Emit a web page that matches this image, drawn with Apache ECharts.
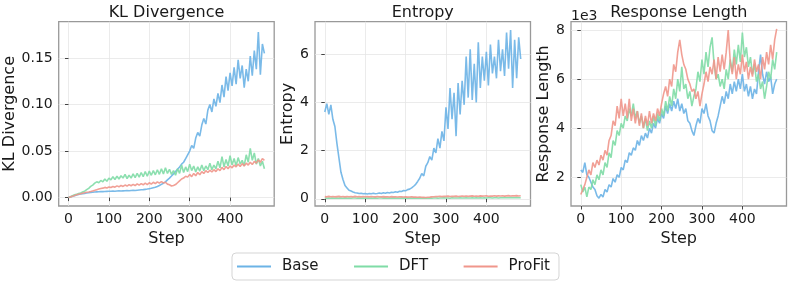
<!DOCTYPE html>
<html>
<head>
<meta charset="utf-8">
<script src="https://cdn.jsdelivr.net/npm/echarts@6.0.0/dist/echarts.min.js"></script>
<style>
html,body{margin:0;padding:0;background:#fff;}
#chart{width:793px;height:288px;}
</style>
</head>
<body>
<div id="chart"></div>
<script>
// ---- Data ----
const methods = ['Base', 'DFT', 'ProFit'];
const panelTitles = ['KL Divergence', 'Entropy', 'Response Length'];
const xTicks = [0, 100, 200, 300, 400];
const klTicks = [0, 0.05, 0.10, 0.15];
const entropyTicks = [0, 2, 4, 6];
const lengthTicks = [2, 4, 6, 8]; // units of 1e3

const steps = [
  0,5,10,15,20,25,30,35,40,45,
  50,55,60,65,70,75,80,85,90,95,
  100,105,110,115,120,125,130,135,140,145,
  150,155,160,165,170,175,180,185,190,195,
  200,205,210,215,220,225,230,235,240,245,
  250,255,260,265,270,275,280,285,290,295,
  300,305,310,315,320,325,330,335,340,345,
  350,355,360,365,370,375,380,385,390,395,
  400,405,410,415,420,425,430,435,440,445,
  450,455,460,465,470,475,480,485
];

const klBase = [
  0,0.0008,0.0015,0.002,0.0028,0.0033,0.0038,0.0042,0.0046,0.005,
  0.0053,0.0056,0.0058,0.006,0.0062,0.0063,0.0065,0.0064,0.0066,0.0067,
  0.0068,0.0069,0.007,0.0069,0.0071,0.0072,0.0071,0.0073,0.0074,0.0075,
  0.0074,0.0076,0.0078,0.0077,0.008,0.0082,0.0084,0.0086,0.0089,0.0092,
  0.0096,0.01,0.0106,0.0112,0.012,0.013,0.0142,0.0155,0.017,0.019,
  0.021,0.0232,0.0255,0.028,0.0305,0.033,0.036,0.038,0.042,0.046,
  0.05,0.056,0.053,0.064,0.07,0.066,0.078,0.085,0.079,0.094,
  0.1,0.092,0.106,0.098,0.112,0.102,0.121,0.108,0.13,0.115,
  0.134,0.12,0.14,0.122,0.148,0.128,0.142,0.118,0.138,0.125,
  0.152,0.131,0.158,0.138,0.178,0.132,0.165,0.155
];
const klDFT = [
  0,0.001,0.002,0.003,0.0035,0.0045,0.005,0.006,0.007,0.0085,
  0.01,0.012,0.0135,0.0155,0.017,0.016,0.0185,0.017,0.02,0.0175,
  0.021,0.019,0.0225,0.0195,0.023,0.02,0.0235,0.021,0.025,0.0205,
  0.024,0.021,0.0255,0.0215,0.026,0.022,0.027,0.0225,0.028,0.023,
  0.0285,0.024,0.029,0.0245,0.03,0.025,0.031,0.0255,0.032,0.026,
  0.0305,0.025,0.029,0.024,0.031,0.026,0.035,0.027,0.033,0.028,
  0.036,0.029,0.034,0.0275,0.033,0.0285,0.035,0.029,0.034,0.03,
  0.037,0.03,0.035,0.031,0.039,0.032,0.044,0.033,0.041,0.034,
  0.045,0.035,0.042,0.034,0.043,0.036,0.04,0.034,0.046,0.038,
  0.053,0.04,0.048,0.036,0.042,0.034,0.039,0.031
];
const klProFit = [
  0,0.0008,0.0015,0.0022,0.003,0.0036,0.0042,0.0048,0.0052,0.0058,
  0.006,0.0065,0.0072,0.0078,0.0085,0.0092,0.0098,0.0102,0.011,0.0104,
  0.0115,0.0108,0.012,0.0112,0.0126,0.0116,0.013,0.012,0.0135,0.0124,
  0.014,0.0128,0.0142,0.013,0.0148,0.0134,0.015,0.0138,0.0155,0.014,
  0.016,0.0145,0.0165,0.015,0.017,0.0155,0.0172,0.0158,0.0165,0.0145,
  0.0138,0.0125,0.013,0.014,0.016,0.018,0.02,0.021,0.023,0.022,
  0.025,0.0225,0.026,0.0235,0.027,0.0245,0.028,0.026,0.029,0.027,
  0.0295,0.0275,0.03,0.028,0.031,0.029,0.0325,0.03,0.0335,0.031,
  0.034,0.032,0.035,0.033,0.036,0.0335,0.0365,0.034,0.037,0.035,
  0.038,0.0355,0.039,0.037,0.0405,0.038,0.042,0.04
];

const entropyBase = [
  3.6,3.95,3.5,3.9,3.3,3.0,2.3,1.7,1.1,0.8,
  0.55,0.45,0.35,0.32,0.28,0.25,0.24,0.22,0.23,0.21,
  0.22,0.2,0.22,0.21,0.23,0.21,0.22,0.24,0.22,0.25,
  0.23,0.26,0.24,0.27,0.26,0.29,0.27,0.31,0.3,0.34,
  0.33,0.38,0.4,0.45,0.52,0.6,0.72,0.85,1.05,0.95,
  1.35,1.5,1.75,1.6,2.1,1.9,2.5,2.1,2.8,2.4,
  3.8,2.9,4.6,3.3,4.4,2.6,4.8,3.5,4.9,3.9,
  5.9,4.2,6.2,4.1,5.6,4.0,6.5,4.6,5.9,4.9,
  6.1,4.7,6.4,5.2,5.9,5.0,6.6,5.3,6.2,5.1,
  6.9,5.4,7.0,4.6,6.6,5.0,6.7,5.8
];
const entropyDFT = [
  0.03,0.02,0.035,0.025,0.03,0.02,0.035,0.025,0.03,0.02,
  0.03,0.025,0.035,0.02,0.03,0.035,0.025,0.03,0.02,0.035,
  0.025,0.03,0.02,0.035,0.025,0.03,0.02,0.03,0.035,0.025,
  0.03,0.02,0.035,0.025,0.03,0.025,0.035,0.02,0.03,0.025,
  0.03,0.02,0.03,0.025,0.035,0.02,0.03,0.025,0.02,0.03,
  0.025,0.02,0.03,0.025,0.035,0.03,0.025,0.035,0.03,0.04,
  0.03,0.035,0.025,0.04,0.03,0.035,0.03,0.04,0.035,0.03,
  0.04,0.035,0.03,0.04,0.035,0.045,0.035,0.04,0.03,0.04,
  0.035,0.045,0.04,0.035,0.045,0.04,0.035,0.045,0.04,0.05,
  0.04,0.045,0.05,0.04,0.045,0.05,0.04,0.045
];
const entropyProFit = [
  0.09,0.08,0.1,0.085,0.095,0.08,0.09,0.1,0.085,0.09,
  0.08,0.095,0.085,0.09,0.08,0.1,0.085,0.09,0.08,0.095,
  0.085,0.09,0.08,0.095,0.085,0.08,0.09,0.085,0.08,0.09,
  0.08,0.085,0.075,0.09,0.08,0.085,0.075,0.08,0.085,0.075,
  0.08,0.07,0.075,0.08,0.07,0.075,0.065,0.07,0.06,0.065,
  0.055,0.065,0.07,0.08,0.085,0.09,0.095,0.1,0.09,0.105,
  0.1,0.11,0.095,0.105,0.1,0.11,0.095,0.105,0.11,0.1,
  0.115,0.1,0.11,0.12,0.105,0.115,0.1,0.12,0.11,0.115,
  0.12,0.105,0.115,0.11,0.125,0.11,0.12,0.115,0.125,0.11,
  0.12,0.13,0.115,0.125,0.12,0.13,0.115,0.125
];

// response length, in units of 1e3 tokens
const lengthBase = [
  2.3,2.2,2.6,2.1,2.0,1.8,1.6,1.5,1.25,1.15,
  1.3,1.2,1.5,1.4,1.7,1.6,1.95,1.8,2.1,2.0,
  2.4,2.3,2.7,2.6,3.0,2.9,3.2,3.1,3.5,3.3,
  3.7,3.5,3.8,3.6,4.0,3.8,4.2,4.0,4.4,4.2,
  4.6,4.4,4.9,4.6,5.0,4.7,5.1,4.8,5.2,4.7,
  5.0,4.6,4.8,4.3,4.2,3.9,3.7,4.1,4.4,4.2,
  4.8,4.6,5.0,4.5,4.3,3.9,3.8,4.2,4.5,4.9,
  5.3,5.0,5.5,5.2,5.8,5.4,5.9,5.5,6.0,5.6,
  6.2,5.5,5.8,5.3,5.7,5.2,5.6,5.4,6.3,7.0,
  6.2,5.8,6.3,5.9,6.1,5.4,5.8,6.0
];
const lengthDFT = [
  1.7,1.4,1.6,1.2,1.6,1.5,1.9,1.7,2.1,1.9,
  2.3,2.1,2.6,2.4,3.0,2.8,3.5,3.3,3.9,3.7,
  4.2,4.0,4.5,4.3,4.8,4.5,5.0,4.4,4.7,4.2,
  4.5,4.0,4.4,3.9,4.3,4.0,4.5,4.1,4.6,4.3,
  4.8,4.5,5.1,4.7,5.3,4.9,5.6,5.2,6.0,5.5,
  6.5,5.6,5.8,5.2,5.5,4.9,5.3,5.6,6.3,5.9,
  6.8,6.2,7.1,6.5,7.3,7.7,6.6,6.0,6.2,5.7,
  6.0,5.6,6.4,6.0,6.8,6.3,7.2,6.6,7.4,6.7,
  7.9,6.9,7.3,6.5,6.9,6.2,6.6,5.9,6.2,5.6,
  5.9,5.2,5.7,6.3,6.0,6.8,6.4,7.1
];
const lengthProFit = [
  1.3,1.5,1.7,2.0,2.3,2.1,2.6,2.4,2.7,2.5,
  2.9,2.7,3.1,2.9,3.5,3.7,4.3,4.1,4.9,4.4,
  5.2,4.5,5.0,4.4,5.2,4.3,4.8,4.2,4.7,4.1,
  4.6,4.0,4.5,4.1,4.7,4.2,4.6,4.3,4.8,4.5,
  5.0,5.4,5.7,5.3,6.0,5.7,6.6,6.3,7.1,7.6,
  7.0,6.6,6.4,6.0,5.8,5.5,5.6,5.2,5.5,4.9,
  5.4,5.8,6.3,5.9,6.5,6.2,6.8,6.0,6.9,6.3,
  7.0,6.4,7.1,8.0,6.7,6.2,6.9,6.0,6.6,6.2,
  7.0,6.3,6.7,6.0,6.5,6.1,6.8,6.3,6.6,6.0,
  6.9,6.4,7.1,6.6,7.4,6.8,7.6,8.05
];

// ---- Styling / layout ----
const colors = ['#6cb3e6', '#7fdca6', '#f0968b'];
const FONT = 'DejaVu Sans';
const TXT = '#1a1a1a';
const gridLefts = [58.7, 315, 571];
const gridTop = 21.7, gridW = 215.5, gridH = 184.3;

const panelData = [
  [klBase, klDFT, klProFit],
  [entropyBase, entropyDFT, entropyProFit],
  [lengthBase, lengthDFT, lengthProFit]
];
const yCfg = [
  {min: -0.009, max: 0.189, ticks: klTicks, fmt: v => v.toFixed(2), gap: 38},
  {min: -0.3, max: 7.35, ticks: entropyTicks, fmt: v => String(v), gap: 17},
  {min: 0.83, max: 8.34, ticks: lengthTicks, fmt: v => String(v), gap: 12}
];

const pairs = ys => steps.map((s, i) => [s, ys[i]]);

const grids = gridLefts.map(l => ({
  left: l, top: gridTop, width: gridW, height: gridH,
  show: true, borderColor: '#999', borderWidth: 1.3, backgroundColor: 'transparent',
  outerBoundsMode: 'none'
}));

const xAxes = gridLefts.map((_, i) => ({
  type: 'value', gridIndex: i, min: -24.25, max: 509.25,
  name: 'Step', nameLocation: 'middle', nameGap: 18,
  nameTextStyle: {fontSize: 16, color: TXT, fontFamily: FONT},
  axisLine: {show: false},
  axisTick: {show: true, inside: false, length: 3.5, customValues: xTicks, lineStyle: {color: '#444', width: 1}},
  axisLabel: {customValues: xTicks, fontSize: 14, color: TXT, fontFamily: FONT, margin: 6},
  splitLine: {show: true, lineStyle: {color: '#e6e6e6', width: 0.8}}
}));

const yAxes = yCfg.map((c, i) => ({
  type: 'value', gridIndex: i, min: c.min, max: c.max,
  name: panelTitles[i], nameLocation: 'middle', nameGap: c.gap,
  nameTextStyle: {fontSize: 16, color: TXT, fontFamily: FONT},
  axisLine: {show: false},
  axisTick: {show: true, inside: false, length: 3.5, customValues: c.ticks, lineStyle: {color: '#444', width: 1}},
  axisLabel: {customValues: c.ticks, formatter: c.fmt, fontSize: 14, color: TXT, fontFamily: FONT, margin: 6},
  splitLine: {show: true, lineStyle: {color: '#e6e6e6', width: 0.8}}
}));

const series = [];
panelData.forEach((arrs, p) => {
  arrs.forEach((ys, m) => {
    series.push({
      type: 'line', name: methods[m], xAxisIndex: p, yAxisIndex: p,
      data: pairs(ys), showSymbol: false, symbol: 'none', silent: true,
      z: 2 + m,
      lineStyle: {width: 1.6, color: colors[m], opacity: 0.9},
      itemStyle: {color: colors[m]}
    });
  });
});

const titles = gridLefts.map((l, i) => ({
  text: panelTitles[i], left: l + gridW / 2, top: 5, textAlign: 'center', padding: 0,
  textStyle: {fontSize: 16, fontWeight: 'normal', color: TXT, fontFamily: FONT}
}));

const option = {
  animation: false,
  textStyle: {fontFamily: FONT},
  color: colors,
  title: titles,
  grid: grids,
  xAxis: xAxes,
  yAxis: yAxes,
  legend: {
    data: methods, left: 232, top: 253, orient: 'horizontal',
    icon: 'rect', itemWidth: 34, itemHeight: 2, itemGap: 35.5,
    padding: [6, 9, 6, 5],
    backgroundColor: '#fff', borderColor: '#d5d5d5', borderWidth: 1, borderRadius: 4,
    textStyle: {fontSize: 15, color: TXT, fontFamily: FONT, padding: [0, 0, 0, 6]}
  },
  graphic: [{
    type: 'text', left: 571, top: 9,
    style: {text: '1e3', fontSize: 14, fill: TXT, fontFamily: FONT}
  }],
  series: series
};

const chart = echarts.init(document.getElementById('chart'), null, {renderer: 'canvas'});
chart.setOption(option);
</script>
</body>
</html>
